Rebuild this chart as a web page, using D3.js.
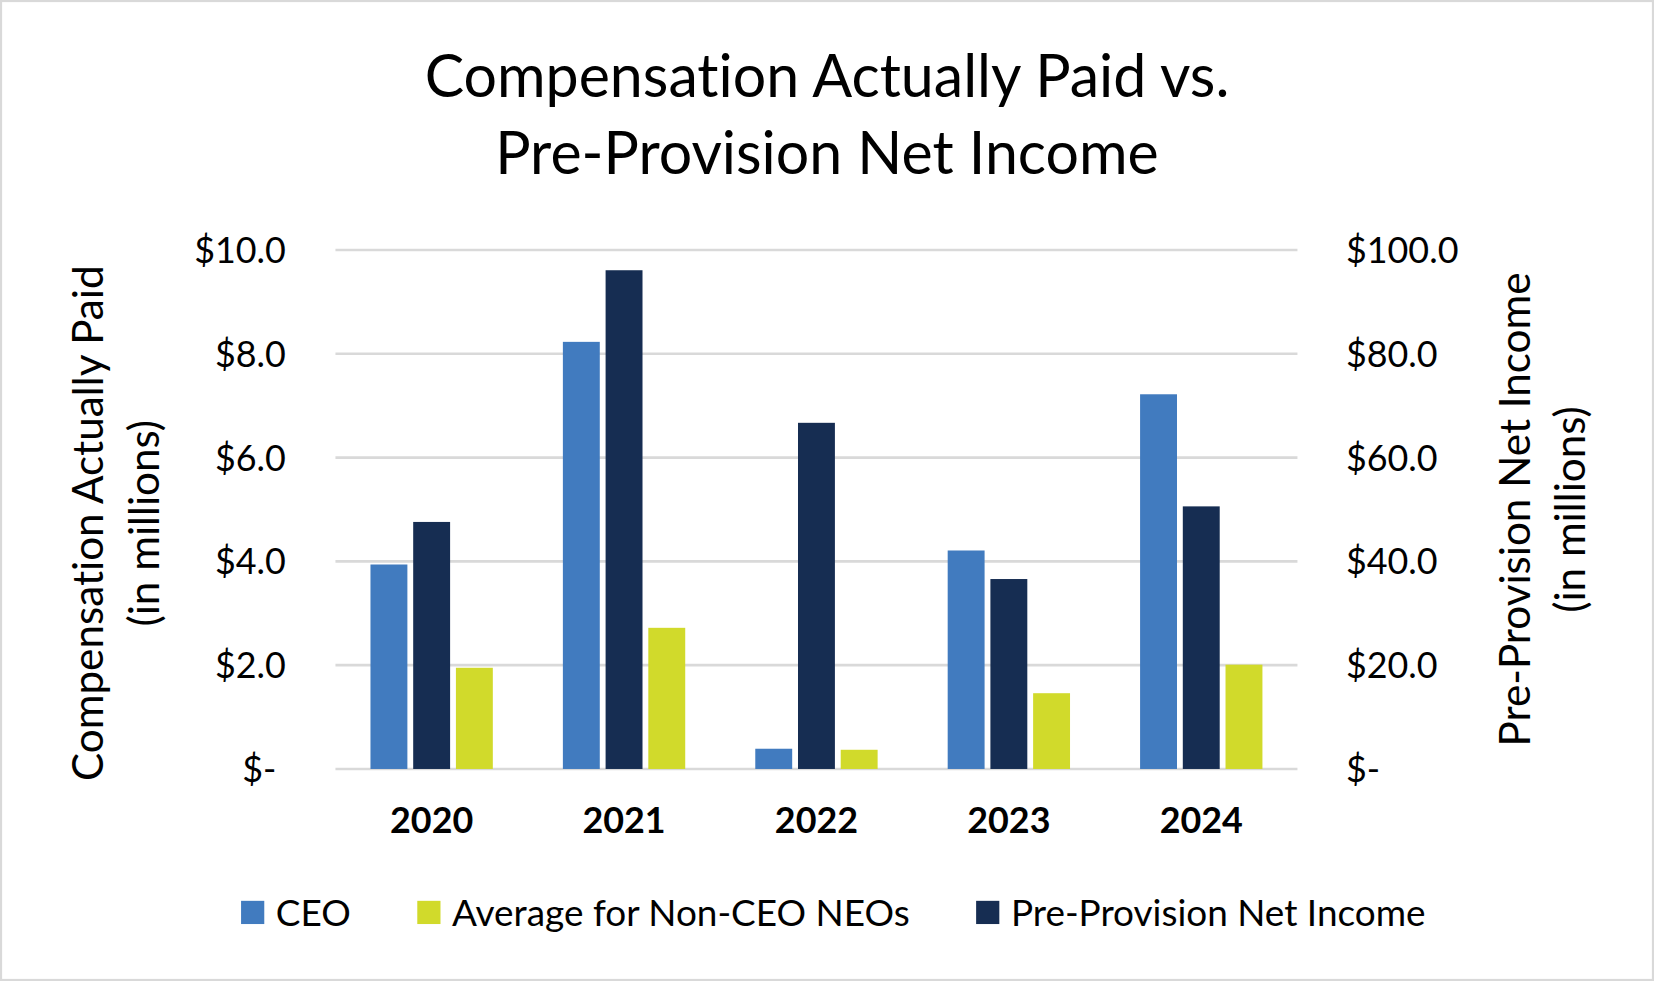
<!DOCTYPE html>
<html><head>
<meta charset="utf-8">
<title>Compensation Actually Paid vs. Pre-Provision Net Income</title>
<script src="https://d3js.org/d3.v7.min.js"></script>
<style>
  body { margin: 0; background: #fff; }
  svg text { font-family: Lato, "Open Sans", sans-serif; fill: #000; font-variant-ligatures: none; }
</style>
</head>
<body>
<svg id="chart" width="1654" height="981" viewBox="0 0 1568 930"></svg>

<script>
// data (millions of dollars)
let years = ["2020", "2021", "2022", "2023", "2024"];
let ceoPay = [3.94, 8.23, 0.39, 4.21, 7.22];
let neoPay = [1.95, 2.72, 0.37, 1.46, 2.01];
let ppni   = [47.6, 96.1, 66.7, 36.6, 50.6];
let leftTicks  = [0, 2, 4, 6, 8, 10];
let rightTicks = [0, 20, 40, 60, 80, 100];
let seriesNames = ["CEO", "Average for Non-CEO NEOs", "Pre-Provision Net Income"];
let barOrder = ["CEO", "Pre-Provision Net Income", "Average for Non-CEO NEOs"];

let colors = {
  "CEO": "#417bbf",
  "Average for Non-CEO NEOs": "#d1da2b",
  "Pre-Provision Net Income": "#162d52"
};

let svg = d3.select("#chart");

// light frame around the whole thing
svg.append("rect")
  .attr("x", 1).attr("y", 1).attr("width", 1566).attr("height", 928)
  .style("fill", "#fff").style("stroke", "#d9d9d9").style("stroke-width", 2);

// 1. scales
let plot = {left: 318, right: 1230, top: 237, bottom: 729};
let xScale = d3.scaleBand().domain(years).range([plot.left, plot.right]);
let xInner = d3.scaleBand().domain(barOrder).range([0, xScale.bandwidth()])
  .paddingInner(0.136).paddingOuter(0.82);
let yLeft  = d3.scaleLinear().domain([0, 10]).range([plot.bottom, plot.top]);
let yRight = d3.scaleLinear().domain([0, 100]).range([plot.bottom, plot.top]);

// 2. gridlines + tick labels
let money = d => d === 0 ? "$-" : "$" + d.toFixed(1);

svg.append("g").selectAll("line").data(leftTicks).join("line")
  .attr("x1", plot.left).attr("x2", plot.right)
  .attr("y1", d => yLeft(d)).attr("y2", d => yLeft(d))
  .style("stroke", "#d9d9d9").style("stroke-width", 2.5);

svg.append("g").selectAll("text").data(leftTicks).join("text")
  .attr("x", d => d === 0 ? 262 : 271)
  .attr("y", d => yLeft(d))
  .attr("dy", "0.36em")
  .attr("text-anchor", "end")
  .style("font-size", "34px")
  .text(money);

svg.append("g").selectAll("text").data(rightTicks).join("text")
  .attr("x", 1276)
  .attr("y", d => yRight(d))
  .attr("dy", "0.36em")
  .style("font-size", "34px")
  .text(money);

// 3. bars
let rows = years.map(function(y, i) {
  return [
    {year: y, name: "CEO", value: ceoPay[i], scale: yLeft},
    {year: y, name: "Pre-Provision Net Income", value: ppni[i], scale: yRight},
    {year: y, name: "Average for Non-CEO NEOs", value: neoPay[i], scale: yLeft}
  ];
}).flat();

svg.append("g").selectAll("rect").data(rows).join("rect")
  .attr("x", d => xScale(d.year) + xInner(d.name))
  .attr("width", xInner.bandwidth())
  .attr("y", d => d.scale(d.value))
  .attr("height", d => plot.bottom - d.scale(d.value))
  .style("fill", d => colors[d.name]);

// 4. year labels
svg.append("g").selectAll("text").data(years).join("text")
  .attr("x", d => xScale(d) + xScale.bandwidth() / 2)
  .attr("y", 790)
  .attr("text-anchor", "middle")
  .style("font-size", "34px").style("font-weight", "bold")
  .text(d => d);

// 5. titles
svg.append("text").attr("x", 784).attr("y", 92).attr("text-anchor", "middle")
  .style("font-size", "56px").text("Compensation Actually Paid vs.");
svg.append("text").attr("x", 784).attr("y", 165).attr("text-anchor", "middle")
  .style("font-size", "56px").text("Pre-Provision Net Income");

let leftTitle = svg.append("text").attr("transform", "translate(111,496) rotate(-90)")
  .attr("text-anchor", "middle").style("font-size", "40px");
leftTitle.append("tspan").attr("x", 0).attr("y", -13).text("Compensation Actually Paid");
leftTitle.append("tspan").attr("x", 0).attr("y", 40).text("(in millions)");

let rightTitle = svg.append("text").attr("transform", "translate(1463,483) rotate(-90)")
  .attr("text-anchor", "middle").style("font-size", "40px");
rightTitle.append("tspan").attr("x", 0).attr("y", -13).text("Pre-Provision Net Income");
rightTitle.append("tspan").attr("x", 0).attr("y", 40).text("(in millions)");

// 6. legend, laid out left to right then centred
let legend = svg.append("g");
let cursor = 0;
seriesNames.forEach(function(name) {
  let item = legend.append("g").attr("transform", "translate(" + cursor + ",0)");
  item.append("rect").attr("x", 0).attr("y", -11).attr("width", 22).attr("height", 22)
    .style("fill", colors[name]);
  let t = item.append("text").attr("x", 33).attr("dy", "0.36em")
    .style("font-size", "35px").text(name);
  cursor += 33 + t.node().getComputedTextLength() + 63;
});
let legendWidth = cursor - 63;
legend.attr("transform", "translate(" + (790 - legendWidth / 2) + ",865)");
</script>
</body>
</html>
